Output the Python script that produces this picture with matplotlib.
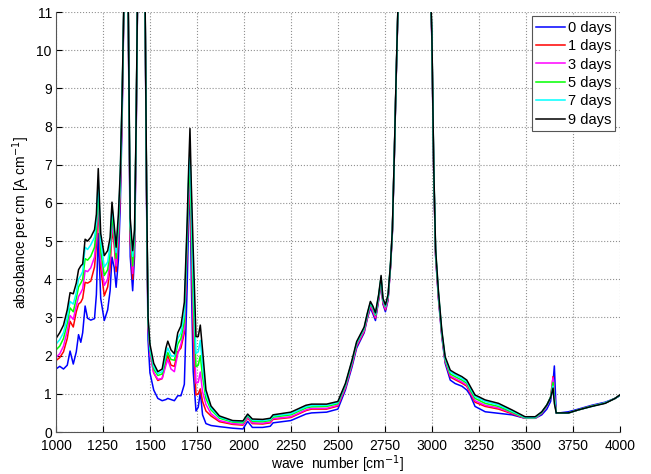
import matplotlib
matplotlib.use("Agg")
import matplotlib.pyplot as plt
import numpy as np

plt.rcParams['font.family'] = ['Liberation Sans', 'DejaVu Sans']

#---------------------------------------data---------------------------------------
wave_number = [
	1000, 1020, 1040, 1060, 1075, 1092, 1108, 1120, 1132, 1142, 1155, 1168, 1185, 1205,
	1215, 1225, 1238, 1257, 1275, 1288, 1298, 1310, 1320, 1332, 1342, 1352,
	1362, 1372, 1384, 1395, 1408, 1418, 1426, 1434, 1455, 1474, 1482, 1490, 1500,
	1520, 1542, 1565, 1585, 1595, 1612, 1630, 1648, 1665, 1683, 1698,
	1706, 1713, 1720, 1730, 1745, 1757, 1768, 1780, 1798, 1825, 1870,
	1940, 1995, 2020, 2045, 2100, 2140, 2155, 2250, 2330, 2360, 2440, 2500,
	2540, 2575, 2600, 2640, 2656, 2673, 2686, 2700, 2717, 2730, 2740, 2753, 2767, 2780,
	2790, 2800, 2810, 2820, 2830, 2990, 3000, 3010, 3020, 3035, 3053, 3071,
	3098, 3124, 3160, 3186, 3204, 3230, 3284, 3355, 3426, 3496, 3550, 3585,
	3612, 3632, 3645, 3652, 3662, 3727, 3780, 3851, 3922, 3975, 4000]

day0 = [
	1.65, 1.72, 1.65, 1.75, 2.12, 1.78, 2.1, 2.55, 2.35, 2.6, 3.3, 2.98, 2.93, 2.97,
	3.6, 5.2, 3.5, 2.92, 3.2, 3.7, 4.58, 4.3, 3.79, 4.5, 5.9, 8.2,
	11.3, 12, 11.2, 4.6, 3.7, 4.6, 7.4, 11.3, 12, 11.3, 6.0, 2.4, 1.55,
	1.1, 0.88, 0.82, 0.85, 0.88, 0.85, 0.82, 0.95, 0.95, 1.25, 3.8,
	5.6, 6.5, 4.0, 1.6, 0.55, 0.65, 1.05, 0.45, 0.22, 0.17, 0.14,
	0.1, 0.08, 0.28, 0.12, 0.12, 0.15, 0.24, 0.3, 0.47, 0.5, 0.52, 0.6,
	1.1, 1.7, 2.2, 2.6, 2.95, 3.25, 3.1, 2.92, 3.45, 3.9, 3.35, 3.15, 3.45, 4.3,
	5.2, 7.1, 9.2, 11.1, 12, 12, 10.3, 6.8, 4.6, 3.5, 2.5, 1.8,
	1.36, 1.27, 1.2, 1.1, 0.97, 0.67, 0.53, 0.49, 0.45, 0.36, 0.36, 0.45,
	0.6, 0.8, 1.3, 1.73, 0.49, 0.53, 0.6, 0.7, 0.78, 0.88, 0.95]

day1 = [
	1.87, 1.95, 2.1, 2.45, 2.9, 2.75, 3.15, 3.35, 3.4, 3.5, 3.92, 3.9, 3.95, 4.32,
	4.9, 5.9, 4.3, 3.57, 3.8, 4.3, 5.3, 4.9, 4.2, 5.0, 6.3, 8.5,
	11.4, 12, 11.4, 5.0, 4.0, 4.9, 7.7, 11.4, 12, 11.4, 6.3, 2.8, 2.1,
	1.55, 1.35, 1.4, 1.85, 2.0, 1.75, 1.72, 2.1, 2.2, 2.6, 4.8,
	6.0, 6.3, 5.0, 2.6, 0.97, 1.0, 1.13, 0.8, 0.55, 0.42, 0.27,
	0.2, 0.18, 0.37, 0.22, 0.21, 0.24, 0.33, 0.38, 0.56, 0.6, 0.6, 0.68,
	1.15, 1.76, 2.25, 2.63, 2.98, 3.3, 3.15, 2.98, 3.48, 3.95, 3.38, 3.2, 3.48, 4.32,
	5.25, 7.15, 9.25, 11.15, 12, 12, 10.4, 6.9, 4.65, 3.55, 2.55, 1.85,
	1.44, 1.37, 1.28, 1.2, 1.02, 0.78, 0.67, 0.6, 0.48, 0.36, 0.36, 0.49,
	0.68, 0.9, 1.45, 0.95, 0.5, 0.5, 0.58, 0.68, 0.76, 0.88, 0.96]

day3 = [
	1.95, 2.05, 2.25, 2.65, 3.05, 2.95, 3.3, 3.55, 3.65, 3.75, 4.23, 4.2, 4.3, 4.58,
	5.1, 6.1, 4.5, 3.84, 4.0, 4.5, 5.5, 5.0, 4.35, 5.15, 6.4, 8.6,
	11.4, 12, 11.4, 5.15, 4.15, 5.0, 7.7, 11.4, 12, 11.4, 6.3, 2.8, 2.05,
	1.55, 1.38, 1.4, 1.75, 1.9, 1.65, 1.58, 2.05, 2.3, 2.7, 5.0,
	6.2, 6.6, 5.3, 3.0, 1.28, 1.3, 1.57, 1.05, 0.72, 0.48, 0.3,
	0.22, 0.2, 0.39, 0.24, 0.23, 0.26, 0.35, 0.4, 0.58, 0.62, 0.62, 0.7,
	1.17, 1.78, 2.27, 2.65, 3.0, 3.32, 3.17, 3.0, 3.5, 3.97, 3.4, 3.22, 3.5, 4.34,
	5.26, 7.16, 9.26, 11.16, 12, 12, 10.42, 6.92, 4.68, 3.58, 2.57, 1.87,
	1.47, 1.4, 1.31, 1.23, 1.05, 0.82, 0.7, 0.63, 0.5, 0.36, 0.36, 0.5,
	0.68, 0.92, 1.42, 0.95, 0.5, 0.5, 0.58, 0.68, 0.76, 0.88, 0.96]

day5 = [
	2.15, 2.25, 2.45, 2.85, 3.25, 3.15, 3.5, 3.8, 3.9, 4.0, 4.54, 4.5, 4.6, 4.84,
	5.3, 6.4, 4.75, 4.1, 4.25, 4.7, 5.7, 5.15, 4.55, 5.35, 6.55, 8.7,
	11.4, 12, 11.4, 5.3, 4.35, 5.1, 7.8, 11.4, 12, 11.4, 6.4, 2.9, 2.15,
	1.65, 1.48, 1.52, 1.95, 2.08, 1.9, 1.88, 2.3, 2.45, 2.9, 5.1,
	6.5, 6.9, 5.6, 3.5, 1.71, 1.75, 2.0, 1.45, 0.88, 0.58, 0.36,
	0.26, 0.24, 0.43, 0.28, 0.27, 0.3, 0.39, 0.45, 0.63, 0.66, 0.67, 0.74,
	1.22, 1.83, 2.32, 2.7, 3.05, 3.37, 3.24, 3.06, 3.55, 4.03, 3.45, 3.28, 3.55, 4.37,
	5.27, 7.17, 9.27, 11.17, 12, 12, 10.45, 6.95, 4.72, 3.62, 2.6, 1.9,
	1.52, 1.45, 1.36, 1.28, 1.1, 0.88, 0.75, 0.67, 0.52, 0.37, 0.37, 0.51,
	0.7, 0.92, 1.3, 0.9, 0.5, 0.5, 0.58, 0.68, 0.76, 0.88, 0.96]

day7 = [
	2.3, 2.42, 2.6, 3.0, 3.42, 3.35, 3.65, 4.0, 4.1, 4.2, 4.84, 4.78, 4.9, 5.1,
	5.5, 6.6, 5.0, 4.32, 4.45, 4.9, 5.9, 5.3, 4.7, 5.5, 6.7, 8.75,
	11.4, 12, 11.4, 5.45, 4.6, 5.2, 7.85, 11.4, 12, 11.4, 6.45, 2.95, 2.2,
	1.72, 1.53, 1.58, 2.05, 2.2, 2.0, 1.98, 2.45, 2.6, 3.1, 5.3,
	6.7, 7.3, 6.0, 4.1, 2.06, 2.1, 2.4, 1.75, 1.0, 0.63, 0.39,
	0.28, 0.27, 0.45, 0.31, 0.3, 0.33, 0.42, 0.48, 0.66, 0.69, 0.7, 0.77,
	1.24, 1.85, 2.34, 2.72, 3.07, 3.39, 3.27, 3.09, 3.57, 4.06, 3.47, 3.3, 3.57, 4.38,
	5.28, 7.18, 9.28, 11.18, 12, 12, 10.48, 6.98, 4.76, 3.66, 2.63, 1.93,
	1.57, 1.5, 1.4, 1.32, 1.15, 0.93, 0.8, 0.71, 0.55, 0.38, 0.38, 0.52,
	0.7, 0.9, 1.2, 0.85, 0.5, 0.5, 0.58, 0.67, 0.76, 0.88, 0.96]

day9 = [
	2.45, 2.6, 2.8, 3.2, 3.65, 3.62, 3.9, 4.25, 4.35, 4.4, 5.05, 5.0, 5.1, 5.3,
	5.7, 6.9, 5.2, 4.62, 4.75, 5.1, 6.02, 5.4, 4.84, 5.7, 6.8, 8.8,
	11.5, 12, 11.5, 5.6, 4.75, 5.3, 7.9, 11.5, 12, 11.5, 6.5, 3.0, 2.3,
	1.8, 1.58, 1.65, 2.2, 2.38, 2.15, 2.05, 2.6, 2.78, 3.4, 5.5,
	6.9, 7.95, 6.5, 4.8, 2.5, 2.5, 2.8, 2.15, 1.1, 0.68, 0.42,
	0.3, 0.29, 0.47, 0.34, 0.33, 0.36, 0.45, 0.52, 0.7, 0.73, 0.73, 0.8,
	1.27, 1.88, 2.37, 2.75, 3.1, 3.42, 3.3, 3.12, 3.6, 4.1, 3.5, 3.33, 3.6, 4.4,
	5.3, 7.2, 9.3, 11.2, 12, 12, 10.5, 7.0, 4.8, 3.7, 2.67, 1.97,
	1.62, 1.54, 1.45, 1.36, 1.2, 0.97, 0.84, 0.75, 0.58, 0.4, 0.4, 0.53,
	0.71, 0.9, 1.15, 0.75, 0.5, 0.5, 0.58, 0.67, 0.75, 0.88, 0.97]

series = [day0, day1, day3, day5, day7, day9]
labels = ['0 days', '1 days', '3 days', '5 days', '7 days', '9 days']
colors = ['#0000ff', '#ff0000', '#ff00ff', '#00ff00', '#00ffff', '#000000']

#---------------------------------------plot---------------------------------------
fig = plt.figure(figsize=(6.51, 4.74), dpi=100)
ax = fig.add_axes([0.086, 0.0886, 0.866, 0.886])

for s, lab, col in zip(series, labels, colors):
	ax.plot(wave_number, s, color=col, lw=1.1, label=lab)

ax.set_xlim(1000, 4000)
ax.set_ylim(0, 11)
ax.set_xticks(np.arange(1000, 4001, 250))
ax.set_yticks(np.arange(0, 12, 1))
ax.grid(True, linestyle=':', color='#909090', lw=0.8)
ax.tick_params(direction='in', length=4, labelsize=10, colors='black')
ax.tick_params(axis='x', pad=5)
ax.tick_params(axis='y', pad=3)
plt.setp(ax.get_yticklabels(), va='center_baseline')
for side in ['top', 'right']:
	ax.spines[side].set_visible(False)
for side in ['left', 'bottom']:
	ax.spines[side].set_color('#555555')

ax.set_xlabel('wave  number [cm$^{-1}$]', fontsize=10, labelpad=0)
ax.set_ylabel('absobance per cm [A cm$^{-1}$]', fontsize=10, labelpad=3)

leg = ax.legend(loc='upper right', fancybox=False, framealpha=1, edgecolor='#555555',
	fontsize=10.5, handlelength=2.0, handletextpad=0.15, labelspacing=0.3,
	borderaxespad=0.3, borderpad=0.3)
leg.get_frame().set_linewidth(0.8)

fig.savefig('out.png', dpi=100)
